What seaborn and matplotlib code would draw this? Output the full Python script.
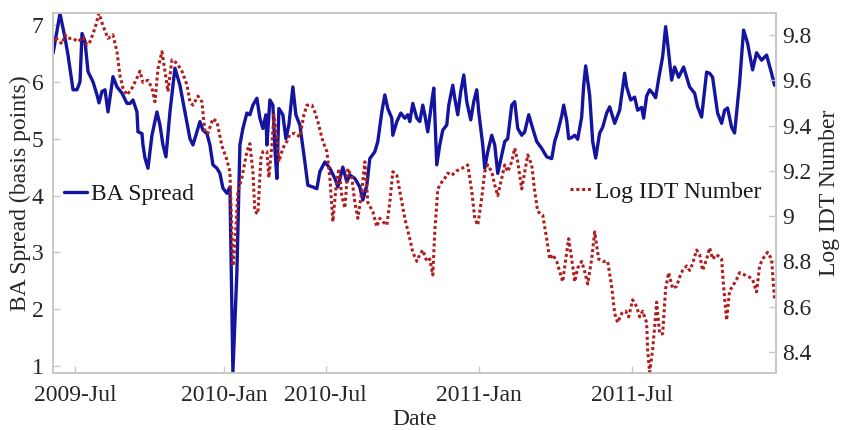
import matplotlib
matplotlib.use("Agg")
import matplotlib.pyplot as plt
from matplotlib.ticker import FuncFormatter
import seaborn as sns
import pandas as pd

# Trading-day index and bid-ask spread (basis points)
ba_obs = [0, 7, 12, 15, 20, 24, 27, 29, 32, 35, 40, 44, 46, 49, 52, 55, 60, 64, 69, 74,
          77, 80, 84, 85, 89, 90, 92, 95, 99, 104, 107, 110, 113, 117, 122, 127, 132, 137, 140, 144,
          147, 150, 154, 157, 160, 164, 167, 170, 174, 177, 180, 184, 187, 190, 194, 197, 200, 204, 207, 210,
          213, 214, 217, 220, 222, 224, 226, 230, 233, 236, 240, 243, 247, 252, 255, 260, 264, 267, 272, 277,
          282, 285, 290, 294, 297, 302, 307, 310, 314, 317, 322, 325, 329, 332, 335, 339, 340, 344, 348, 352,
          355, 357, 360, 364, 367, 370, 372, 375, 379, 381, 384, 387, 390, 394, 396, 400, 402, 405, 408, 411,
          414, 418, 421, 424, 426, 430, 432, 435, 439, 442, 445, 449, 452, 455, 459, 462, 465, 469, 472, 476,
          480, 484, 489, 494, 499, 502, 505, 509, 511, 514, 516, 519, 522, 525, 529, 531, 533, 537, 540, 543,
          547, 550, 554, 557, 562, 567, 572, 574, 578, 582, 585, 589, 591, 594, 597, 600, 603, 606, 610, 613,
          615, 619, 622, 626, 631, 637, 642, 645, 649, 654, 657, 660, 665, 669, 672, 675, 679, 682, 687, 691,
          695, 700, 704, 709, 714, 719, 722, 724]
ba_spread = [6.50, 7.20, 6.77, 6.47, 5.86, 5.86, 6.00, 6.85, 6.71, 6.18, 6.00, 5.77, 5.63, 5.83, 5.86, 5.47, 6.09, 5.91, 5.80, 5.62,
             5.62, 5.68, 5.47, 5.12, 5.09, 4.89, 4.66, 4.48, 5.06, 5.47, 5.24, 4.89, 4.68, 5.47, 6.24, 5.94, 5.47, 5.00, 4.89, 5.12,
             5.30, 5.15, 5.09, 4.89, 4.54, 4.48, 4.39, 4.13, 4.04, 4.15, 0.90, 2.66, 4.89, 5.18, 5.45, 5.42, 5.59, 5.71, 5.36, 5.18,
             5.42, 4.89, 5.68, 5.59, 4.83, 4.30, 5.53, 5.42, 5.00, 5.24, 5.91, 5.42, 5.24, 4.59, 4.18, 4.15, 4.12, 4.42, 4.59, 4.48,
             4.30, 4.15, 4.50, 4.24, 4.36, 4.30, 4.15, 3.92, 4.18, 4.65, 4.77, 4.95, 5.47, 5.77, 5.53, 5.36, 5.06, 5.30, 5.45, 5.36,
             5.42, 5.30, 5.62, 5.36, 5.30, 5.59, 5.42, 5.12, 5.65, 5.89, 4.54, 4.89, 5.15, 5.24, 5.59, 5.94, 5.71, 5.42, 5.83, 6.12,
             5.65, 5.33, 5.65, 5.86, 5.47, 4.89, 4.48, 4.77, 5.06, 4.89, 4.39, 4.71, 4.95, 5.00, 5.59, 5.65, 5.18, 5.06, 5.12, 5.42,
             5.18, 4.95, 4.83, 4.68, 4.65, 4.95, 5.12, 5.40, 5.59, 5.32, 5.00, 5.02, 5.06, 4.99, 5.38, 5.94, 6.28, 5.76, 4.95, 4.66,
             5.10, 5.20, 5.45, 5.56, 5.27, 5.50, 6.15, 5.91, 5.68, 5.73, 5.50, 5.55, 5.36, 5.75, 5.86, 5.80, 5.72, 6.05, 6.44, 6.97,
             6.68, 6.03, 6.26, 6.08, 6.26, 5.91, 5.80, 5.56, 5.38, 6.17, 6.15, 6.08, 5.45, 5.27, 5.50, 5.54, 5.20, 5.10, 5.98, 6.91,
             6.68, 6.21, 6.51, 6.38, 6.47, 6.15, 5.94, 6.00]

# Trading-day index and log number of inter-dealer trades
idt_obs = [0, 2, 9, 12, 15, 20, 25, 30, 34, 37, 42, 46, 50, 55, 60, 64, 67, 70, 74, 79,
           84, 87, 90, 95, 99, 102, 105, 109, 112, 115, 119, 124, 129, 134, 137, 140, 145, 149, 152, 155,
           160, 164, 169, 174, 177, 180, 182, 185, 189, 194, 197, 200, 202, 205, 208, 210, 214, 216, 219, 221,
           224, 226, 230, 234, 237, 242, 247, 251, 254, 259, 262, 265, 270, 274, 277, 280, 283, 286, 289, 292,
           295, 299, 302, 305, 309, 312, 315, 320, 324, 327, 330, 334, 337, 340, 344, 347, 352, 357, 360, 364,
           367, 370, 374, 377, 380, 382, 385, 389, 392, 395, 399, 404, 409, 415, 419, 422, 425, 429, 432, 435,
           439, 442, 445, 449, 452, 455, 459, 462, 465, 469, 472, 475, 479, 482, 485, 490, 494, 497, 500, 504,
           507, 510, 514, 516, 520, 522, 525, 529, 532, 535, 539, 542, 546, 550, 555, 559, 562, 565, 569, 573,
           576, 580, 584, 587, 590, 594, 595, 597, 600, 602, 604, 607, 610, 613, 616, 620, 624, 627, 630, 634,
           637, 640, 644, 647, 650, 654, 657, 660, 664, 669, 671, 674, 677, 680, 684, 687, 692, 697, 700, 704,
           707, 710, 715, 719, 722]
log_idt = [9.77, 9.79, 9.76, 9.80, 9.785, 9.785, 9.77, 9.79, 9.756, 9.77, 9.83, 9.896, 9.84, 9.785, 9.80, 9.726, 9.62, 9.565, 9.535, 9.565,
           9.61, 9.64, 9.59, 9.60, 9.565, 9.505, 9.65, 9.726, 9.64, 9.55, 9.69, 9.675, 9.64, 9.58, 9.505, 9.49, 9.53, 9.505, 9.37, 9.366,
           9.43, 9.417, 9.31, 9.248, 9.196, 8.78, 8.87, 9.11, 9.17, 9.285, 9.32, 9.196, 9.02, 9.01, 9.255, 9.285, 9.285, 9.17, 9.314, 9.447,
           9.344, 9.24, 9.30, 9.33, 9.36, 9.366, 9.35, 9.447, 9.49, 9.49, 9.46, 9.417, 9.33, 9.285, 9.17, 8.975, 9.12, 9.21, 9.09, 9.035,
           9.21, 9.17, 9.06, 8.99, 9.11, 9.24, 9.06, 9.02, 8.953, 8.99, 8.975, 8.96, 9.06, 9.196, 9.18, 9.11, 8.99, 8.90, 8.84, 8.80,
           8.83, 8.85, 8.80, 8.81, 8.74, 8.93, 9.12, 9.15, 9.167, 9.19, 9.18, 9.20, 9.21, 9.226, 9.11, 8.99, 8.96, 9.08, 9.196, 9.226,
           9.196, 9.137, 9.09, 9.167, 9.226, 9.196, 9.24, 9.30, 9.24, 9.12, 9.196, 9.27, 9.226, 9.11, 9.02, 9.005, 8.90, 8.81, 8.83, 8.80,
           8.755, 8.71, 8.84, 8.90, 8.78, 8.71, 8.77, 8.80, 8.755, 8.70, 8.81, 8.93, 8.81, 8.80, 8.80, 8.69, 8.57, 8.53, 8.57, 8.58,
           8.555, 8.63, 8.60, 8.555, 8.58, 8.53, 8.41, 8.31, 8.41, 8.51, 8.62, 8.48, 8.48, 8.68, 8.75, 8.68, 8.69, 8.73, 8.76, 8.78,
           8.76, 8.79, 8.85, 8.83, 8.76, 8.81, 8.86, 8.81, 8.83, 8.81, 8.69, 8.54, 8.67, 8.69, 8.72, 8.75, 8.74, 8.73, 8.72, 8.665,
           8.78, 8.81, 8.84, 8.81, 8.63]

# Month labels placed at their trading-day index
month_pos = [22, 171, 273, 426, 579]
month_labels = ["2009-Jul", "2010-Jan", "2010-Jul", "2011-Jan", "2011-Jul"]

spread_df = pd.DataFrame({"obs": ba_obs, "spread": ba_spread})
idt_df = pd.DataFrame({"obs": idt_obs, "log_idt": log_idt})

sns.set_theme(style="white")
plt.rcParams["font.family"] = ["Liberation Serif", "DejaVu Serif"]
plt.rcParams["font.size"] = 17

BLUE = "#1414a0"
RED = "#b01e1e"
GRID = "#c8c8c8"
TXT = "#262626"

fig = plt.figure(figsize=(8.43, 4.30), dpi=100)
ax = fig.add_axes([0.0629, 0.1326, 0.8571, 0.8372])
ax2 = ax.twinx()

sns.lineplot(data=spread_df, x="obs", y="spread", ax=ax, color=BLUE,
             linewidth=2.4, label="BA Spread")
sns.lineplot(data=idt_df, x="obs", y="log_idt", ax=ax2, color=RED,
             linewidth=2.2, linestyle=(0, (1, 0.9)), label="Log IDT Number")

ax.set_xlim(0, 723)
ax.set_ylim(0.88, 7.21)
ax2.set_ylim(8.307, 9.897)

ax.set_xticks(month_pos)
ax.set_xticklabels(month_labels)
ax.set_yticks([1, 2, 3, 4, 5, 6, 7])
ax2.set_yticks([8.4, 8.6, 8.8, 9.0, 9.2, 9.4, 9.6, 9.8])
ax2.yaxis.set_major_formatter(FuncFormatter(lambda v, p: f"{v:g}"))

for a in (ax, ax2):
    for s in a.spines.values():
        s.set_color(GRID)
        s.set_linewidth(1.2)
    a.tick_params(direction="in", length=5, width=1.0, color=GRID,
                  labelsize=17, labelcolor=TXT)
ax.tick_params(axis="y", pad=7, left=True, right=False)
ax.tick_params(axis="x", pad=9, bottom=True, top=False)
ax2.tick_params(axis="y", pad=5, right=True, left=False)

ax.set_xlabel("Date", fontsize=17, color=TXT, labelpad=2)
ax.set_ylabel("BA Spread (basis points)", fontsize=17, color=TXT, labelpad=0)
ax2.set_ylabel("Log IDT Number", fontsize=17, color=TXT, labelpad=5)

leg1 = ax.legend(loc="center left", bbox_to_anchor=(-0.005, 0.497), frameon=False,
                 handlelength=1.0, handletextpad=0.15, fontsize=17, borderaxespad=0.2)
leg2 = ax2.legend(loc="center right", bbox_to_anchor=(1.0, 0.503), frameon=False,
                  handlelength=0.9, handletextpad=0.15, fontsize=17, borderaxespad=0.2)
for t in list(leg1.get_texts()) + list(leg2.get_texts()):
    t.set_color("#1a1a1a")

fig.savefig("out.png", dpi=100)
